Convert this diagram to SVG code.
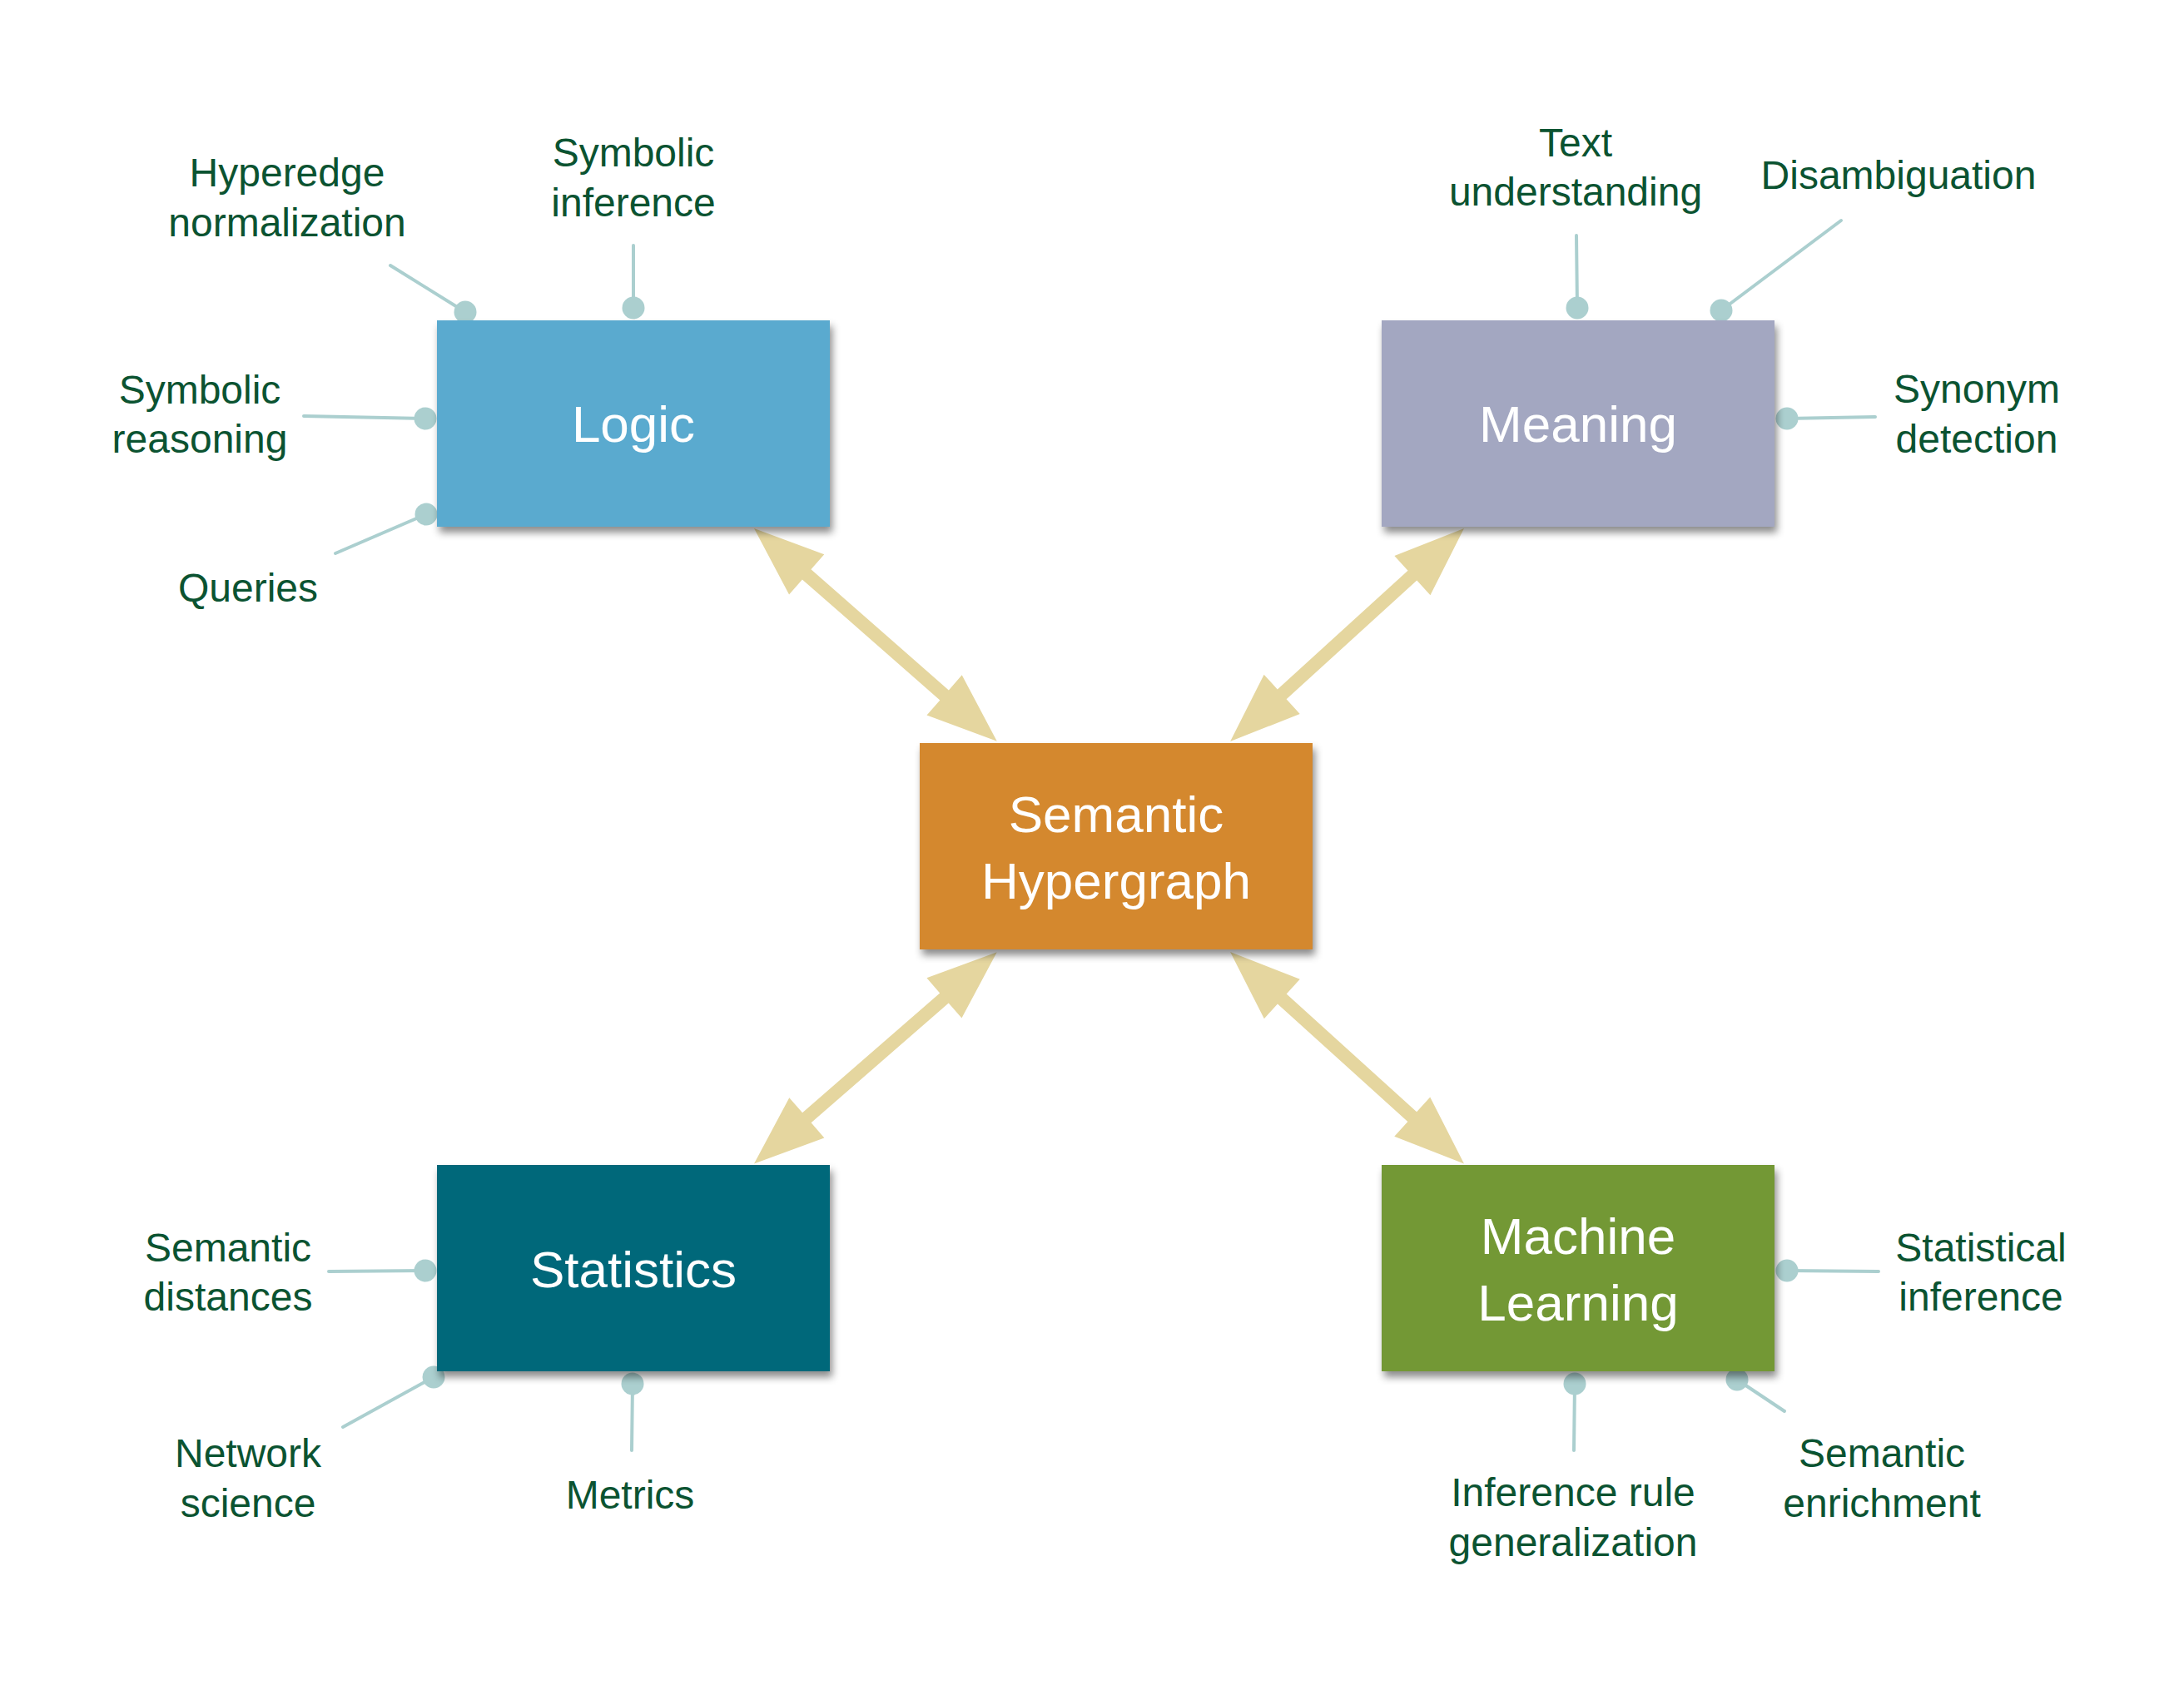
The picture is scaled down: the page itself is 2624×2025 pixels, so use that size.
<svg xmlns="http://www.w3.org/2000/svg" width="2624" height="2025" viewBox="0 0 2624 2025">
<defs>
<filter id="sh" x="-10%" y="-10%" width="125%" height="130%">
<feDropShadow dx="3" dy="7" stdDeviation="5" flood-color="#000" flood-opacity="0.45"/>
</filter>
<style>
.box{filter:url(#sh);}
.bl{font-family:"Liberation Sans",Arial,sans-serif;font-size:62px;fill:#ffffff;text-anchor:middle;}
.lb{font-family:"Liberation Sans",Arial,sans-serif;font-size:48px;fill:#0b5331;text-anchor:middle;}
.arrow{fill:#e5d69f;}
.spoke{stroke:#abcfcf;stroke-width:4;stroke-linecap:round;fill:none;}
.dot{fill:#abcfcf;}
</style>
</defs>
<rect width="2624" height="2025" fill="#ffffff"/>
<g id="connectors">
<path class="arrow" transform="translate(906,635) rotate(41.24)" d="M0,0 L84,-32 L84,-8 L304,-8 L304,-32 L388,0 L304,32 L304,8 L84,8 L84,32 Z"/>
<path class="arrow" transform="translate(1759,635) rotate(137.66)" d="M0,0 L84,-32 L84,-8 L296,-8 L296,-32 L380,0 L296,32 L296,8 L84,8 L84,32 Z"/>
<path class="arrow" transform="translate(906,1398.5) rotate(-41.07)" d="M0,0 L84,-32 L84,-8 L303,-8 L303,-32 L387,0 L303,32 L303,8 L84,8 L84,32 Z"/>
<path class="arrow" transform="translate(1759,1398.5) rotate(-137.84)" d="M0,0 L84,-32 L84,-8 L295,-8 L295,-32 L379,0 L295,32 L295,8 L84,8 L84,32 Z"/>
<line class="spoke" x1="469" y1="319" x2="559" y2="375"/><circle class="dot" cx="559" cy="375" r="13.5"/>
<line class="spoke" x1="761" y1="295" x2="761" y2="370"/><circle class="dot" cx="761" cy="370" r="13.5"/>
<line class="spoke" x1="365" y1="500" x2="511" y2="503"/><circle class="dot" cx="511" cy="503" r="13.5"/>
<line class="spoke" x1="403" y1="665" x2="512" y2="618"/><circle class="dot" cx="512" cy="618" r="13.5"/>
<line class="spoke" x1="1894" y1="283" x2="1895" y2="370"/><circle class="dot" cx="1895" cy="370" r="13.5"/>
<line class="spoke" x1="2212" y1="265" x2="2068" y2="373"/><circle class="dot" cx="2068" cy="373" r="13.5"/>
<line class="spoke" x1="2253" y1="501" x2="2147" y2="503"/><circle class="dot" cx="2147" cy="503" r="13.5"/>
<line class="spoke" x1="395" y1="1528" x2="511" y2="1527"/><circle class="dot" cx="511" cy="1527" r="13.5"/>
<line class="spoke" x1="412" y1="1715" x2="521" y2="1655"/><circle class="dot" cx="521" cy="1655" r="13.5"/>
<line class="spoke" x1="759" y1="1743" x2="760" y2="1663"/><circle class="dot" cx="760" cy="1663" r="13.5"/>
<line class="spoke" x1="2257" y1="1528" x2="2147" y2="1527"/><circle class="dot" cx="2147" cy="1527" r="13.5"/>
<line class="spoke" x1="1891" y1="1743" x2="1892" y2="1663"/><circle class="dot" cx="1892" cy="1663" r="13.5"/>
<line class="spoke" x1="2144" y1="1696" x2="2087" y2="1658"/><circle class="dot" cx="2087" cy="1658" r="13.5"/>
</g>
<g id="node-logic">
<rect class="box" x="525" y="385" width="472" height="248" fill="#5aaacf"/>
<text class="bl" x="761" y="531">Logic</text>
</g>
<g id="node-meaning">
<rect class="box" x="1660" y="385" width="472" height="248" fill="#a3a7c1"/>
<text class="bl" x="1896" y="531">Meaning</text>
</g>
<g id="node-semantic-hypergraph">
<rect class="box" x="1105" y="893" width="472" height="248" fill="#d4882f"/>
<text class="bl" x="1341" y="1000">Semantic</text>
<text class="bl" x="1341" y="1080">Hypergraph</text>
</g>
<g id="node-statistics">
<rect class="box" x="525" y="1400" width="472" height="248" fill="#02687a"/>
<text class="bl" x="761" y="1547">Statistics</text>
</g>
<g id="node-machine-learning">
<rect class="box" x="1660" y="1400" width="472" height="248" fill="#739834"/>
<text class="bl" x="1896" y="1507">Machine</text>
<text class="bl" x="1896" y="1587">Learning</text>
</g>
<g id="label-hyperedge-normalization"><text class="lb" x="345" y="224">Hyperedge</text><text class="lb" x="345" y="284">normalization</text></g>
<g id="label-symbolic-inference"><text class="lb" x="761" y="200">Symbolic</text><text class="lb" x="761" y="260">inference</text></g>
<g id="label-symbolic-reasoning"><text class="lb" x="240" y="485">Symbolic</text><text class="lb" x="240" y="544">reasoning</text></g>
<g id="label-queries"><text class="lb" x="298" y="723">Queries</text></g>
<g id="label-text-understanding"><text class="lb" x="1893" y="188">Text</text><text class="lb" x="1893" y="247">understanding</text></g>
<g id="label-disambiguation"><text class="lb" x="2281" y="227">Disambiguation</text></g>
<g id="label-synonym-detection"><text class="lb" x="2375" y="484">Synonym</text><text class="lb" x="2375" y="544">detection</text></g>
<g id="label-semantic-distances"><text class="lb" x="274" y="1516">Semantic</text><text class="lb" x="274" y="1575">distances</text></g>
<g id="label-network-science"><text class="lb" x="298" y="1763">Network</text><text class="lb" x="298" y="1823">science</text></g>
<g id="label-metrics"><text class="lb" x="757" y="1813">Metrics</text></g>
<g id="label-statistical-inference"><text class="lb" x="2380" y="1516">Statistical</text><text class="lb" x="2380" y="1575">inference</text></g>
<g id="label-inference-rule-generalization"><text class="lb" x="1890" y="1810">Inference rule</text><text class="lb" x="1890" y="1870">generalization</text></g>
<g id="label-semantic-enrichment"><text class="lb" x="2261" y="1763">Semantic</text><text class="lb" x="2261" y="1823">enrichment</text></g>
</svg>
